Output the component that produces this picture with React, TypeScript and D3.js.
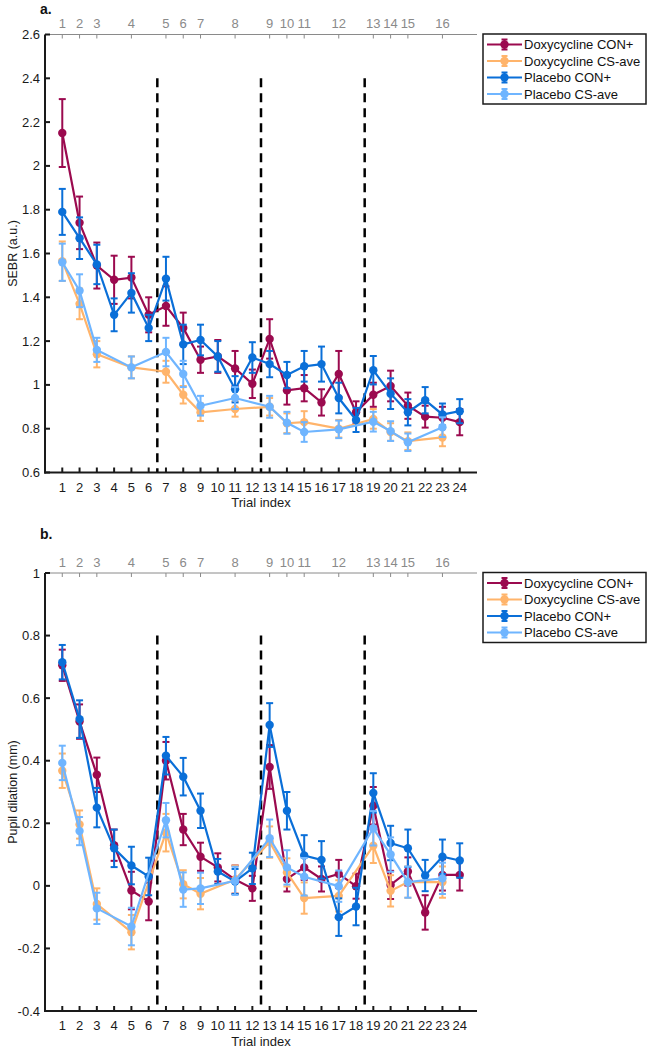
import React from "react";
import * as d3 from "d3";

// trial layout
const trials = d3.range(1, 25);
const csTrials = [1, 2, 3, 5, 7, 8, 9, 11, 13, 14, 15, 17, 19, 20, 21, 23];
const csLabels = csTrials.map((_, i) => String(i + 1));
const blockEdges = [6.5, 12.5, 18.5];

const seriesNames = ["Doxycycline CON+", "Doxycycline CS-ave", "Placebo CON+", "Placebo CS-ave"];
const seriesColors = ["#9b0a4f", "#ffb46b", "#0a6fd8", "#6fb5ff"];

// panel a: SEBR
const sebrDoxCon = [2.15, 1.74, 1.545, 1.48, 1.49, 1.32, 1.36, 1.26, 1.115, 1.13, 1.075, 1.005, 1.21, 0.975, 0.985, 0.92, 1.05, 0.875, 0.955, 0.995, 0.905, 0.855, 0.85, 0.83];
const sebrDoxConSe = [0.155, 0.12, 0.105, 0.11, 0.095, 0.08, 0.09, 0.07, 0.06, 0.075, 0.08, 0.065, 0.09, 0.065, 0.06, 0.06, 0.105, 0.05, 0.055, 0.07, 0.06, 0.05, 0.05, 0.06];
const sebrDoxCs = [1.565, 1.37, 1.14, 1.08, 1.06, 0.955, 0.875, 0.89, 0.9, 0.825, 0.83, 0.8, 0.845, 0.785, 0.743, 0.76];
const sebrDoxCsSe = [0.09, 0.07, 0.06, 0.05, 0.05, 0.04, 0.04, 0.035, 0.04, 0.045, 0.05, 0.04, 0.045, 0.04, 0.04, 0.04];
const sebrPlaCon = [1.79, 1.67, 1.55, 1.32, 1.42, 1.26, 1.485, 1.185, 1.205, 1.13, 0.98, 1.125, 1.095, 1.045, 1.085, 1.095, 0.94, 0.84, 1.067, 0.96, 0.875, 0.93, 0.865, 0.88];
const sebrPlaConSe = [0.105, 0.095, 0.09, 0.075, 0.09, 0.06, 0.1, 0.09, 0.07, 0.07, 0.06, 0.07, 0.06, 0.06, 0.07, 0.08, 0.07, 0.055, 0.065, 0.07, 0.06, 0.06, 0.05, 0.055];
const sebrPlaCs = [1.56, 1.43, 1.16, 1.08, 1.15, 1.05, 0.905, 0.94, 0.9, 0.827, 0.785, 0.797, 0.832, 0.789, 0.738, 0.807];
const sebrPlaCsSe = [0.085, 0.075, 0.055, 0.05, 0.065, 0.06, 0.045, 0.05, 0.05, 0.05, 0.045, 0.04, 0.045, 0.045, 0.04, 0.045];
const sebrTicks = [0.6, 0.8, 1, 1.2, 1.4, 1.6, 1.8, 2, 2.2, 2.4, 2.6];

// panel b: pupil dilation
const pupDoxCon = [0.705, 0.525, 0.355, 0.13, -0.015, -0.05, 0.4, 0.18, 0.093, 0.059, 0.02, -0.008, 0.38, 0.022, 0.059, 0.022, 0.038, -0.001, 0.256, 0.003, 0.046, -0.085, 0.035, 0.035];
const pupDoxConSe = [0.05, 0.055, 0.055, 0.05, 0.06, 0.06, 0.06, 0.05, 0.045, 0.045, 0.045, 0.04, 0.07, 0.04, 0.04, 0.04, 0.045, 0.04, 0.06, 0.045, 0.045, 0.055, 0.05, 0.05];
const pupDoxCs = [0.368, 0.196, -0.058, -0.148, 0.17, 0.005, -0.025, 0.02, 0.14, 0.043, -0.039, -0.032, 0.128, -0.016, 0.012, 0.012];
const pupDoxCsSe = [0.055, 0.045, 0.05, 0.055, 0.06, 0.045, 0.05, 0.045, 0.05, 0.045, 0.05, 0.05, 0.055, 0.05, 0.05, 0.05];
const pupPlaCon = [0.715, 0.533, 0.25, 0.12, 0.065, 0.03, 0.416, 0.349, 0.24, 0.046, 0.014, 0.056, 0.514, 0.24, 0.097, 0.083, -0.1, -0.066, 0.297, 0.137, 0.12, 0.033, 0.093, 0.081];
const pupPlaConSe = [0.055, 0.06, 0.063, 0.06, 0.06, 0.06, 0.06, 0.06, 0.055, 0.04, 0.04, 0.05, 0.07, 0.06, 0.065, 0.06, 0.06, 0.06, 0.063, 0.055, 0.06, 0.05, 0.055, 0.055];
const pupPlaCs = [0.393, 0.175, -0.072, -0.13, 0.21, -0.012, -0.008, 0.016, 0.152, 0.059, 0.029, -0.001, 0.184, 0.1, 0.012, 0.024];
const pupPlaCsSe = [0.055, 0.045, 0.05, 0.06, 0.055, 0.055, 0.05, 0.045, 0.06, 0.055, 0.06, 0.05, 0.055, 0.055, 0.05, 0.05];
const pupTicks = [-0.4, -0.2, 0, 0.2, 0.4, 0.6, 0.8, 1];

const FONT = "'Liberation Sans', Arial, Helvetica, sans-serif";
const PLOT_H = 438;
const X0 = 45;
const X1 = 477;

const fmt = (v) => String(+v.toFixed(1));

function Panel({ top, letter, yDomain, yTicks, yLabel, dashTop, series, labelTop }) {
  const x = d3.scaleLinear().domain([0, 25]).range([X0, X1]);
  const y = d3.scaleLinear().domain(yDomain).range([top + PLOT_H, top]);
  const bottom = top + PLOT_H;
  const line = d3.line().x((d) => x(d[0])).y((d) => y(d[1]));

  return (
    <g>
      <text x={40} y={labelTop} fontFamily={FONT} fontSize={14} fontWeight="bold" fill="#111">
        {letter}
      </text>

      {/* top axis with CS-ave trial numbers */}
      <line x1={X0} x2={X1} y1={top} y2={top} stroke="#8a8a8a" strokeWidth={1} />
      {csTrials.map((t, i) => (
        <g key={"ct" + t}>
          <line x1={x(t)} x2={x(t)} y1={top} y2={top + 4} stroke="#8a8a8a" strokeWidth={1} />
          <text x={x(t)} y={top - 11} textAnchor="middle" dominantBaseline="central"
            fontFamily={FONT} fontSize={13} fill="#8a8a8a">{csLabels[i]}</text>
        </g>
      ))}

      {/* block separators */}
      {blockEdges.map((b) => (
        <line key={"b" + b} x1={x(b)} x2={x(b)} y1={y(dashTop)} y2={bottom}
          stroke="#000" strokeWidth={2.5} strokeDasharray="9,6" />
      ))}

      {/* series */}
      {series.map((s, si) => {
        const xs = s.means.length === 24 ? trials : csTrials;
        const pts = s.means.map((m, i) => [xs[i], m, s.se[i]]);
        return (
          <g key={"s" + si} stroke={seriesColors[si]} fill={seriesColors[si]}>
            <path d={line(pts)} fill="none" strokeWidth={2.2} />
            {pts.map((p, i) => (
              <g key={i} strokeWidth={2}>
                <line x1={x(p[0])} x2={x(p[0])} y1={y(p[1] - p[2])} y2={y(p[1] + p[2])} />
                <line x1={x(p[0]) - 3.5} x2={x(p[0]) + 3.5} y1={y(p[1] - p[2])} y2={y(p[1] - p[2])} />
                <line x1={x(p[0]) - 3.5} x2={x(p[0]) + 3.5} y1={y(p[1] + p[2])} y2={y(p[1] + p[2])} />
                <circle cx={x(p[0])} cy={y(p[1])} r={4.2} stroke="none" />
              </g>
            ))}
          </g>
        );
      })}

      {/* left axis */}
      <line x1={X0} x2={X0} y1={top} y2={bottom + 1} stroke="#1a1a1a" strokeWidth={2} />
      {yTicks.map((t) => (
        <g key={"y" + t}>
          <line x1={X0} x2={X0 + 5} y1={y(t)} y2={y(t)} stroke="#1a1a1a" strokeWidth={2} />
          <text x={40} y={y(t)} textAnchor="end" dominantBaseline="central"
            fontFamily={FONT} fontSize={13} fill="#1a1a1a">{fmt(t)}</text>
        </g>
      ))}
      <text transform={`translate(13,${top + PLOT_H / 2}) rotate(-90)`} textAnchor="middle"
        dominantBaseline="central" fontFamily={FONT} fontSize={12.5} fill="#1a1a1a">{yLabel}</text>

      {/* bottom axis */}
      <line x1={X0 - 1} x2={X1} y1={bottom} y2={bottom} stroke="#1a1a1a" strokeWidth={2} />
      {trials.map((t) => (
        <g key={"x" + t}>
          <line x1={x(t)} x2={x(t)} y1={bottom} y2={bottom - 5} stroke="#1a1a1a" strokeWidth={2} />
          <text x={x(t)} y={bottom + 14.5} textAnchor="middle" dominantBaseline="central"
            fontFamily={FONT} fontSize={13} fill="#1a1a1a">{t}</text>
        </g>
      ))}
      <text x={(X0 + X1) / 2} y={bottom + 30} textAnchor="middle" dominantBaseline="central"
        fontFamily={FONT} fontSize={13} fill="#1a1a1a">Trial index</text>

      {/* legend */}
      <rect x={483} y={top - 0.5} width={163} height={70} fill="#fff" stroke="#1a1a1a" strokeWidth={1.5} />
      {seriesNames.map((name, i) => {
        const ly = top + 10 + i * 16.5;
        const c = seriesColors[i];
        return (
          <g key={name}>
            <line x1={487} x2={522} y1={ly} y2={ly} stroke={c} strokeWidth={2.2} />
            <line x1={504.5} x2={504.5} y1={ly - 5} y2={ly + 5} stroke={c} strokeWidth={2} />
            <line x1={501.5} x2={507.5} y1={ly - 5} y2={ly - 5} stroke={c} strokeWidth={2} />
            <line x1={501.5} x2={507.5} y1={ly + 5} y2={ly + 5} stroke={c} strokeWidth={2} />
            <circle cx={504.5} cy={ly} r={4.2} fill={c} />
            <text x={524} y={ly} dominantBaseline="central" fontFamily={FONT} fontSize={13} fill="#111">{name}</text>
          </g>
        );
      })}
    </g>
  );
}

export default function App() {
  const sebrSeries = [
    { means: sebrDoxCon, se: sebrDoxConSe },
    { means: sebrDoxCs, se: sebrDoxCsSe },
    { means: sebrPlaCon, se: sebrPlaConSe },
    { means: sebrPlaCs, se: sebrPlaCsSe },
  ];
  const pupSeries = [
    { means: pupDoxCon, se: pupDoxConSe },
    { means: pupDoxCs, se: pupDoxCsSe },
    { means: pupPlaCon, se: pupPlaConSe },
    { means: pupPlaCs, se: pupPlaCsSe },
  ];
  return (
    <svg width={649} height={1048} style={{ position: "absolute", left: 0, top: 0, display: "block", background: "#fff" }}>
      <Panel top={34.5} letter="a." labelTop={14} yDomain={[0.6, 2.6]} yTicks={sebrTicks}
        yLabel="SEBR (a.u.)" dashTop={2.4} series={sebrSeries} />
      <Panel top={573} letter="b." labelTop={539} yDomain={[-0.4, 1]} yTicks={pupTicks}
        yLabel="Pupil dilation (mm)" dashTop={0.8} series={pupSeries} />
    </svg>
  );
}
